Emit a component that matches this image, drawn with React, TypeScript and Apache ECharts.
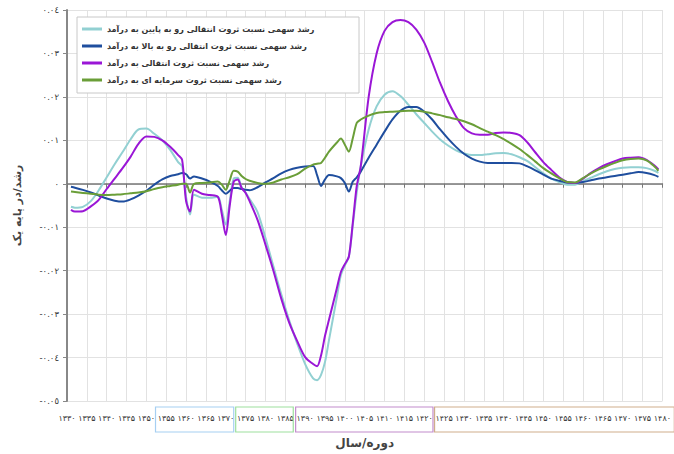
import React, { useEffect, useRef } from "react";
import * as echarts from "echarts";

const years = [1331,1332,1334,1336,1338,1340,1342,1344,1346,1348,1350,1352,1354,1356,1358,1359,1360,1361,1362,1364,1366,1368,1369,1370,1371,1372,1373,1374,1375,1376,1378,1380,1382,1384,1386,1388,1390,1392,1393,1394,1395,1396,1398,1399,1400,1401,1402,1403,1404,1406,1408,1410,1412,1414,1416,1418,1420,1422,1424,1426,1428,1430,1432,1434,1436,1438,1440,1442,1444,1446,1448,1450,1452,1454,1456,1458,1460,1462,1464,1466,1468,1470,1472,1474,1476,1478,1479];

const downward = [-0.0053,-0.0055,-0.0053,-0.0040,-0.0015,0.0015,0.0045,0.0073,0.0102,0.0125,0.0127,0.0115,0.0100,0.0078,0.0050,0.0040,-0.0030,-0.0071,-0.0025,-0.0032,-0.0032,-0.0030,-0.0060,-0.0094,-0.0040,0.0012,0.0014,-0.0008,-0.0020,-0.0035,-0.0065,-0.0125,-0.0190,-0.0255,-0.0315,-0.0368,-0.0415,-0.0448,-0.0452,-0.0440,-0.0410,-0.0360,-0.0260,-0.0210,-0.0188,-0.0168,-0.0095,-0.0020,0.0040,0.0125,0.0178,0.0205,0.0213,0.0202,0.0182,0.0160,0.0140,0.0120,0.0102,0.0088,0.0077,0.0070,0.0066,0.0066,0.0068,0.0070,0.0071,0.0068,0.0061,0.0052,0.0038,0.0024,0.0012,0.0004,-0.0002,-0.0002,0.0006,0.0014,0.0022,0.0029,0.0034,0.0037,0.0038,0.0038,0.0036,0.0030,0.0025];

const upward = [-0.0007,-0.0009,-0.0014,-0.0020,-0.0027,-0.0034,-0.0039,-0.0041,-0.0036,-0.0027,-0.0016,-0.0002,0.0010,0.0018,0.0022,0.0025,0.0022,0.0012,0.0017,0.0012,0.0005,-0.0005,-0.0015,-0.0023,-0.0016,-0.0010,-0.0010,-0.0012,-0.0014,-0.0015,-0.0008,0.0003,0.0013,0.0024,0.0032,0.0037,0.0040,0.0041,0.0020,-0.0005,0.0010,0.0020,0.0017,0.0013,0.0002,-0.0018,0.0005,0.0015,0.0028,0.0060,0.0090,0.0120,0.0148,0.0168,0.0177,0.0177,0.0166,0.0148,0.0125,0.0104,0.0085,0.0069,0.0058,0.0051,0.0048,0.0048,0.0048,0.0048,0.0047,0.0040,0.0031,0.0021,0.0012,0.0007,0.0003,0.0002,0.0004,0.0008,0.0012,0.0015,0.0018,0.0021,0.0024,0.0027,0.0025,0.0020,0.0016];

const transferTotal = [-0.0060,-0.0064,-0.0063,-0.0052,-0.0037,-0.0012,0.0012,0.0036,0.0062,0.0092,0.0109,0.0108,0.0100,0.0085,0.0066,0.0055,-0.0040,-0.0064,-0.0014,-0.0023,-0.0026,-0.0030,-0.0070,-0.0118,-0.0050,0.0005,0.0010,-0.0010,-0.0021,-0.0040,-0.0083,-0.0140,-0.0200,-0.0265,-0.0320,-0.0362,-0.0399,-0.0415,-0.0420,-0.0395,-0.0350,-0.0313,-0.0240,-0.0203,-0.0185,-0.0168,-0.0090,-0.0005,0.0040,0.0200,0.0300,0.0352,0.0372,0.0377,0.0372,0.0355,0.0325,0.0280,0.0232,0.0190,0.0155,0.0128,0.0116,0.0113,0.0113,0.0117,0.0118,0.0117,0.0112,0.0095,0.0072,0.0050,0.0032,0.0015,0.0004,0.0002,0.0012,0.0025,0.0036,0.0045,0.0052,0.0058,0.0060,0.0061,0.0055,0.0042,0.0033];

const capital = [-0.0018,-0.0019,-0.0021,-0.0023,-0.0025,-0.0026,-0.0025,-0.0024,-0.0022,-0.0020,-0.0017,-0.0012,-0.0008,-0.0005,-0.0002,0.0000,0.0000,-0.0020,0.0000,0.0002,0.0003,0.0005,-0.0002,-0.0014,0.0008,0.0030,0.0028,0.0018,0.0011,0.0007,0.0002,0.0000,0.0003,0.0010,0.0015,0.0022,0.0035,0.0044,0.0046,0.0048,0.0060,0.0074,0.0095,0.0104,0.0090,0.0074,0.0105,0.0140,0.0148,0.0157,0.0163,0.0165,0.0166,0.0167,0.0168,0.0168,0.0166,0.0162,0.0158,0.0153,0.0149,0.0144,0.0137,0.0128,0.0120,0.0112,0.0103,0.0092,0.0080,0.0066,0.0051,0.0036,0.0024,0.0013,0.0004,0.0003,0.0013,0.0024,0.0033,0.0041,0.0048,0.0054,0.0057,0.0058,0.0054,0.0040,0.0030];

const seriesNames = [
  "رشد سهمی نسبت ثروت انتقالی رو به پایین به درآمد",
  "رشد سهمی نسبت ثروت انتقالی رو به بالا به درآمد",
  "رشد سهمی نسبت ثروت انتقالی به درآمد",
  "رشد سهمی نسبت ثروت سرمایه ای به درآمد",
];
const seriesColors = ["#92d0d2", "#1f4e9e", "#9a16d6", "#6a9e38"];
const seriesValues = [downward, upward, transferTotal, capital];

// label group frames: [fromYear, toYear, colour]
const labelGroups: [number, number, string][] = [
  [1352.3, 1372, "#a6cff2"],
  [1372.5, 1387, "#9ddf9d"],
  [1387.6, 1422.2, "#c28ccc"],
  [1422.6, 1483, "#cfae8c"],
];

const xTitle = "دوره/سال";
const yTitle = "رشد/در پایه یک";

const FONT = "DejaVu Sans";
const faDigits = (s: string) => s.replace(/\d/g, (d) => "۰۱۲۳۴۵۶۷۸۹"[+d]);
const arDigits = (s: string) => s.replace(/\d/g, (d) => "٠١٢٣٤٥٦٧٨٩"[+d]);

export default function App() {
  const ref = useRef<HTMLDivElement>(null);
  useEffect(() => {
    if (!ref.current) return;
    const chart = echarts.init(ref.current, null, { renderer: "svg" });
    const option: any = {
      animation: false,
      backgroundColor: "#ffffff",
      textStyle: { fontFamily: FONT },
      grid: { left: 67, right: 6, top: 10, bottom: 53, containLabel: false },
      legend: {
        orient: "vertical",
        left: 82,
        top: 24,
        padding: 0,
        itemGap: 7,
        itemWidth: 20,
        itemHeight: 3,
        icon: "rect",
        z: 6,
        textStyle: { fontFamily: FONT, fontSize: 8, fontWeight: "bold", color: "#333", lineHeight: 10 },
        data: seriesNames,
      },
      xAxis: {
        type: "value",
        min: 1330,
        max: 1480,
        interval: 5,
        name: xTitle,
        nameLocation: "middle",
        nameGap: 36,
        nameTextStyle: { fontFamily: FONT, fontSize: 12, fontWeight: "bold", color: "#444" },
        axisLine: { show: true, lineStyle: { color: "#777", width: 1.5 } },
        axisTick: { show: true, length: 4, lineStyle: { color: "#777" } },
        axisLabel: {
          margin: 13,
          fontSize: 8,
          color: "#333",
          fontFamily: FONT,
          formatter: (v: number) => faDigits(String(Math.round(v))),
        },
        splitLine: { show: true, lineStyle: { color: "#e2e2e2", width: 1 } },
      },
      yAxis: {
        type: "value",
        min: -0.05,
        max: 0.04,
        interval: 0.01,
        name: yTitle,
        nameLocation: "middle",
        nameRotate: 90,
        nameGap: 44,
        nameTextStyle: { fontFamily: FONT, fontSize: 11, fontWeight: "bold", color: "#444" },
        axisLine: { show: true, lineStyle: { color: "#888", width: 2 } },
        axisTick: { show: true, length: 4, lineStyle: { color: "#888" } },
        axisLabel: {
          margin: 8,
          fontSize: 8.5,
          color: "#333",
          fontFamily: FONT,
          formatter: (v: number) => (Math.abs(v) < 1e-9 ? "٠" : arDigits(v.toFixed(2))),
        },
        splitLine: { show: true, lineStyle: { color: "#e2e2e2", width: 1 } },
      },
      series: seriesNames.map((name, k) => ({
        name,
        type: "line",
        smooth: 0.3,
        symbol: "none",
        z: 2,
        lineStyle: { color: seriesColors[k], width: 2 },
        itemStyle: { color: seriesColors[k] },
        data: years.map((y, i) => [y, seriesValues[k][i]]),
      })),
    };
    chart.setOption(option);

    const frames: any[] = labelGroups.map(([a, b, c]) => {
      const x1 = chart.convertToPixel({ xAxisIndex: 0 }, a) as number;
      const x2 = chart.convertToPixel({ xAxisIndex: 0 }, b) as number;
      return {
        type: "rect",
        shape: { x: x1, y: 407, width: x2 - x1, height: 25 },
        style: { fill: "none", stroke: c, lineWidth: 1.2 },
        z: 5,
      };
    });
    frames.push({
      type: "rect",
      shape: { x: 77, y: 17, width: 282, height: 76 },
      style: { fill: "#ffffff", stroke: "#c8c8c8", lineWidth: 1 },
      z: 3,
    });
    chart.setOption({ graphic: { elements: frames } });

    return () => chart.dispose();
  }, []);
  return (
    <div
      ref={ref}
      style={{ position: "absolute", left: 0, top: 0, width: 674, height: 454 }}
    />
  );
}
